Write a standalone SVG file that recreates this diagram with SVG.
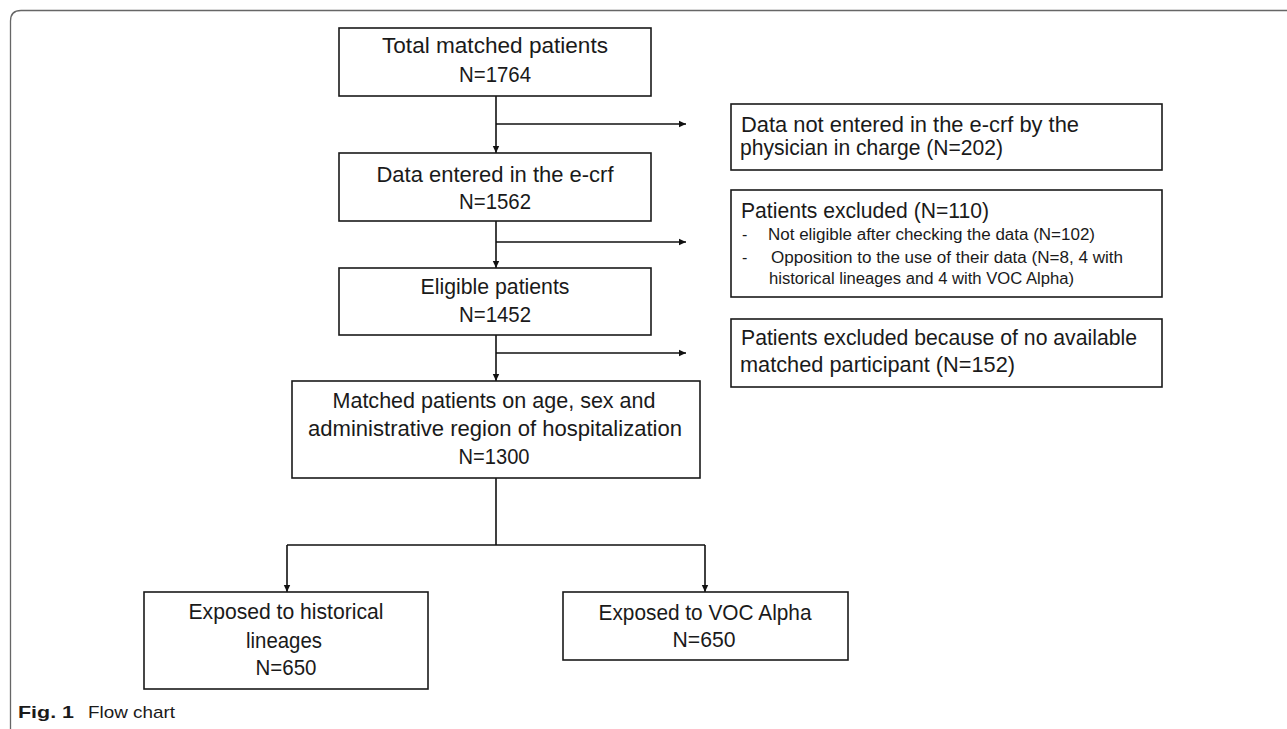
<svg xmlns="http://www.w3.org/2000/svg" width="1287" height="729" viewBox="0 0 1287 729">
<style>
.box{fill:#fff;stroke:#1a1a1a;stroke-width:1.6}
.t{font-family:"Liberation Sans",Arial,sans-serif;font-size:22px;fill:#1a1a1a}
.m{text-anchor:middle}
.s{font-size:16px}
.ln{fill:none;stroke:#111;stroke-width:1.6}
.frame{fill:none;stroke:#666;stroke-width:1.3}
</style>
<defs>
<marker id="ah" markerUnits="userSpaceOnUse" markerWidth="8" markerHeight="8" refX="7" refY="4" orient="auto">
<path d="M0,0.8 L7,4 L0,7.2 z" fill="#111"/>
</marker>
</defs>
<rect width="1287" height="729" fill="#fff"/>
<path class="frame" d="M10.5,729 V21 Q10.5,10.5 21,10.5 H1287"/>
<g id="connectors">
<path class="ln" d="M496,96 V153" marker-end="url(#ah)"/>
<path class="ln" d="M496,124 H686" marker-end="url(#ah)"/>
<path class="ln" d="M496,221 V268" marker-end="url(#ah)"/>
<path class="ln" d="M496,242 H686" marker-end="url(#ah)"/>
<path class="ln" d="M496,335 V381" marker-end="url(#ah)"/>
<path class="ln" d="M496,353 H686" marker-end="url(#ah)"/>
<path class="ln" d="M496,478 V545 M287,545 H705"/>
<path class="ln" d="M287,545 V592" marker-end="url(#ah)"/>
<path class="ln" d="M705,545 V592" marker-end="url(#ah)"/>
</g>
<g id="n1">
<rect class="box" x="339" y="28" width="312" height="68"/>
<text class="t m" x="495" y="53" textLength="226" lengthAdjust="spacingAndGlyphs">Total matched patients</text>
<text class="t m" x="495" y="82" textLength="72" lengthAdjust="spacingAndGlyphs">N=1764</text>
</g>
<g id="n2">
<rect class="box" x="339" y="153" width="312" height="68"/>
<text class="t m" x="495" y="182" textLength="237" lengthAdjust="spacingAndGlyphs">Data entered in the e-crf</text>
<text class="t m" x="495" y="209" textLength="72" lengthAdjust="spacingAndGlyphs">N=1562</text>
</g>
<g id="n3">
<rect class="box" x="339" y="268" width="312" height="67"/>
<text class="t m" x="495" y="294" textLength="149" lengthAdjust="spacingAndGlyphs">Eligible patients</text>
<text class="t m" x="495" y="322" textLength="72" lengthAdjust="spacingAndGlyphs">N=1452</text>
</g>
<g id="n4">
<rect class="box" x="292" y="381" width="408" height="97"/>
<text class="t m" x="494" y="408" textLength="323" lengthAdjust="spacingAndGlyphs">Matched patients on age, sex and</text>
<text class="t m" x="495" y="436" textLength="374" lengthAdjust="spacingAndGlyphs">administrative region of hospitalization</text>
<text class="t m" x="494" y="464" textLength="71" lengthAdjust="spacingAndGlyphs">N=1300</text>
</g>
<g id="n5">
<rect class="box" x="144" y="592" width="284" height="97"/>
<text class="t m" x="286" y="619" textLength="195" lengthAdjust="spacingAndGlyphs">Exposed to historical</text>
<text class="t m" x="284" y="648" textLength="76" lengthAdjust="spacingAndGlyphs">lineages</text>
<text class="t m" x="286" y="675" textLength="61" lengthAdjust="spacingAndGlyphs">N=650</text>
</g>
<g id="n6">
<rect class="box" x="563" y="592" width="285" height="68"/>
<text class="t m" x="705" y="620" textLength="213" lengthAdjust="spacingAndGlyphs">Exposed to VOC Alpha</text>
<text class="t m" x="704" y="647" textLength="63" lengthAdjust="spacingAndGlyphs">N=650</text>
</g>
<g id="e1">
<rect class="box" x="731" y="104" width="431" height="66"/>
<text class="t" x="741" y="132" textLength="338" lengthAdjust="spacingAndGlyphs">Data not entered in the e-crf by the</text>
<text class="t" x="740" y="155" textLength="263" lengthAdjust="spacingAndGlyphs">physician in charge (N=202)</text>
</g>
<g id="e2">
<rect class="box" x="731" y="190" width="431" height="107"/>
<text class="t" x="741" y="218" textLength="248" lengthAdjust="spacingAndGlyphs">Patients excluded (N=110)</text>
<text class="t s" x="742" y="240">-</text>
<text class="t s" x="768" y="240" textLength="327" lengthAdjust="spacingAndGlyphs">Not eligible after checking the data (N=102)</text>
<text class="t s" x="742" y="263">-</text>
<text class="t s" x="771" y="263" textLength="352" lengthAdjust="spacingAndGlyphs">Opposition to the use of their data (N=8, 4 with</text>
<text class="t s" x="769" y="284" textLength="305" lengthAdjust="spacingAndGlyphs">historical lineages and 4 with VOC Alpha)</text>
</g>
<g id="e3">
<rect class="box" x="731" y="319" width="431" height="68"/>
<text class="t" x="741" y="345" textLength="396" lengthAdjust="spacingAndGlyphs">Patients excluded because of no available</text>
<text class="t" x="740" y="372" textLength="275" lengthAdjust="spacingAndGlyphs">matched participant (N=152)</text>
</g>
<g id="caption">
<text x="18" y="718" font-family="Liberation Sans,Arial,sans-serif" font-size="17" font-weight="bold" fill="#1a1a1a" textLength="56" lengthAdjust="spacingAndGlyphs">Fig. 1</text>
<text x="88" y="718" font-family="Liberation Sans,Arial,sans-serif" font-size="17" fill="#1a1a1a" textLength="87" lengthAdjust="spacingAndGlyphs">Flow chart</text>
</g>
</svg>
